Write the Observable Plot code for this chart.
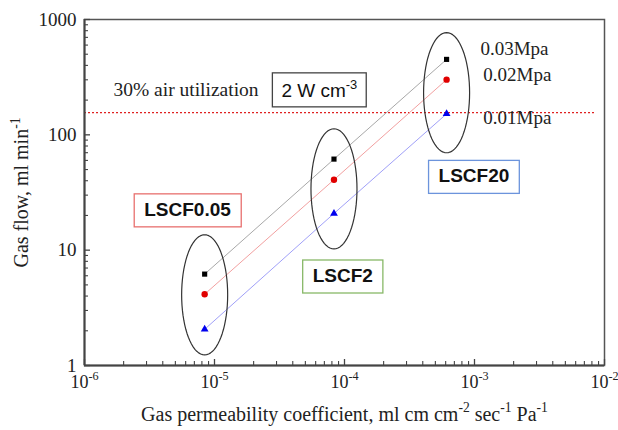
<!DOCTYPE html>
<html><head><meta charset="utf-8">
<script src="https://cdn.jsdelivr.net/npm/d3@7"></script>
<script src="https://cdn.jsdelivr.net/npm/@observablehq/plot@0.6"></script>
<style>body{margin:0;background:#fff}</style>
</head><body>
<script>
// ---- data ----
const groups = ["LSCF0.05", "LSCF2", "LSCF20"];
const permeability = [8.4e-6, 8.3e-5, 6.1e-4];
const pressures = ["0.03Mpa", "0.02Mpa", "0.01Mpa"];
const flow003 = [6.2, 61.6, 451];
const flow002 = [4.15, 40.8, 301];
const flow001 = [2.06, 20.8, 152];
const utilizationFlow = 156;
const ellipseCenterFlow = [4.1, 34, 232];

const xMajor = [1e-6, 1e-5, 1e-4, 1e-3, 1e-2];
const xTickLabels = ["10^{-6}", "10^{-5}", "10^{-4}", "10^{-3}", "10^{-2}"];
const yMajor = [1, 10, 100, 1000];
const yTickLabels = ["1", "10", "100", "1000"];
const xTitle = "Gas permeability coefficient, ml cm cm^{-2} sec^{-1} Pa^{-1}";
const yTitle = "Gas flow, ml min^{-1}";

// annotations (data coordinates)
const groupLabelX = [6.2e-6, 9.7e-5, 9.9e-4];
const groupLabelY = [22.4, 5.98, 43.7];
const groupBoxColors = ["#e8706e", "#88b868", "#6c94dc"];
const pressureLabelX = [1.11e-3, 1.17e-3, 1.17e-3];
const pressureLabelY = [553, 332, 141];
const utilizationText = "30% air utilization";
const utilizationPos = [1.67e-6, 245];
const powerText = "2 W cm^{-3}";
const powerPos = [6.4e-5, 241];

// ---- derived tables ----
const seriesStyle = [
  {values: flow003, symbol: "square", fill: "#000", line: "#a8a8a8", r: 2.9},
  {values: flow002, symbol: "circle", fill: "#e00000", line: "#f2a0a0", r: 3.2},
  {values: flow001, symbol: "triangle", fill: "#0000ee", line: "#a0a0f8", r: 2.9}
];
const points = seriesStyle.flatMap((s, k) => permeability.map((x, i) => ({
  group: groups[i], pressure: pressures[k], x, y: s.values[i], ...s
})));
const allTicksX = d3.scaleLog().domain([1e-6, 1e-2]).ticks();
const xMinor = allTicksX.filter(t => !xMajor.some(m => Math.abs(m - t) / m < 1e-9));
const allTicksY = d3.scaleLog().domain([1, 1000]).ticks();
const yMinor = allTicksY.filter(t => !yMajor.some(m => Math.abs(m - t) / m < 1e-9));

const rxDec = 0.177, ryDec = 0.521;
const ellipsePts = permeability.flatMap((cx, i) => d3.range(0, 73).map(j => {
  const t = j / 72 * 2 * Math.PI;
  return {e: i,
    x: Math.pow(10, Math.log10(cx) + rxDec * Math.cos(t)),
    y: Math.pow(10, Math.log10(ellipseCenterFlow[i]) + ryDec * Math.sin(t))};
}));

const W = 618, H = 430, mL = 84, mR = 14, mT = 19, mB = 65;
const pw = W - mL - mR, ph = H - mT - mB;
const serif = "'Liberation Serif', 'Times New Roman', serif";
const sans = "'Liberation Sans', Arial, sans-serif";

const chart = Plot.plot({
  width: W, height: H,
  marginLeft: mL, marginRight: mR, marginTop: mT, marginBottom: mB,
  style: {background: "#fff", fontFamily: serif, overflow: "visible"},
  x: {type: "log", domain: [1e-6, 1e-2], axis: null},
  y: {type: "log", domain: [1, 1000], axis: null},
  marks: [
    Plot.ruleY([utilizationFlow], {stroke: "#e02020", strokeWidth: 1.3, strokeDasharray: "2,2", insetRight: 10}),
    // connecting lines
    ...seriesStyle.map((s, k) => Plot.line(points.filter(p => p.pressure === pressures[k]),
      {x: "x", y: "y", stroke: s.line, strokeWidth: 1})),
    // ellipses
    Plot.line(ellipsePts, {x: "x", y: "y", z: "e", stroke: "#333", strokeWidth: 1.2, curve: "linear"}),
    // markers
    ...seriesStyle.map((s, k) => Plot.dot(points.filter(p => p.pressure === pressures[k]),
      {x: "x", y: "y", symbol: s.symbol, fill: s.fill, r: s.r, stroke: "none"})),
    // frame
    Plot.frame({stroke: "#555", strokeWidth: 1.5}),
    Plot.ruleX([1e-6], {stroke: "#444", strokeWidth: 2}),
    Plot.ruleY([1], {stroke: "#444", strokeWidth: 2}),
    // inward ticks
    Plot.tickX(xMajor, {stroke: "#444", strokeWidth: 1.3, insetTop: ph - 6}),
    Plot.tickX(xMinor, {stroke: "#444", strokeWidth: 1.1, insetTop: ph - 4}),
    Plot.tickY(yMajor, {stroke: "#444", strokeWidth: 1.3, insetRight: pw - 6}),
    Plot.tickY(yMinor, {stroke: "#444", strokeWidth: 1.1, insetRight: pw - 4}),
    // tick labels
    Plot.text(xMajor, {x: d => d, frameAnchor: "bottom", dy: 22, text: (d, i) => xTickLabels[i],
      fontSize: 18, fill: "#222", textAnchor: "middle"}),
    Plot.text(yMajor, {y: d => d, frameAnchor: "left", dx: -8, text: (d, i) => yTickLabels[i],
      fontSize: 19, fill: "#222", textAnchor: "end"}),
    // axis titles
    Plot.text([xTitle], {frameAnchor: "bottom", dy: 55, text: d => d, fontSize: 20, fill: "#222", textAnchor: "middle"}),
    Plot.text([yTitle], {frameAnchor: "left", dx: -63, rotate: -90, text: d => d, fontSize: 20, fill: "#222", textAnchor: "middle"}),
    // pressure labels
    Plot.text(pressures, {x: (d, i) => pressureLabelX[i], y: (d, i) => pressureLabelY[i], text: d => d,
      textAnchor: "start", fontSize: 19, fill: "#222"}),
    // utilization / power
    Plot.text([utilizationText], {x: () => utilizationPos[0], y: () => utilizationPos[1], text: d => d,
      textAnchor: "start", fontSize: 19.5, fill: "#222"}),
    Plot.text([powerText], {x: () => powerPos[0], y: () => powerPos[1], text: d => d,
      fontFamily: sans, fontSize: 19, fill: "#111"}),
    // group labels
    Plot.text(groups, {x: (d, i) => groupLabelX[i], y: (d, i) => groupLabelY[i], text: d => d,
      fontFamily: sans, fontWeight: "bold", fontSize: 19, fill: "#111"})
  ]
});
document.body.append(chart);

// superscripts: "^{...}"
chart.querySelectorAll("text").forEach(t => {
  const s = t.textContent;
  t.setAttribute("data-orig", s);
  if (!s.includes("^{")) return;
  const fs = parseFloat(getComputedStyle(t).fontSize) || 18;
  const parts = s.split(/\^\{([^}]*)\}/);
  t.textContent = "";
  const ns = "http://www.w3.org/2000/svg";
  let raised = false;
  parts.forEach((p, i) => {
    if (p === "") return;
    const ts = document.createElementNS(ns, "tspan");
    ts.textContent = p;
    if (i % 2 === 1) {
      ts.setAttribute("font-size", (fs * 0.68).toFixed(1));
      ts.setAttribute("dy", (-fs * 0.42).toFixed(1));
      raised = true;
    } else if (raised) {
      ts.setAttribute("dy", (fs * 0.42).toFixed(1));
      raised = false;
    }
    t.appendChild(ts);
  });
});

// boxes around labels
const boxSpec = {};
groups.forEach((g, i) => boxSpec[g] = {stroke: groupBoxColors[i], padX: 10, h: 33});
boxSpec[powerText] = {stroke: "#444", padX: 9, h: 34};
chart.querySelectorAll("text").forEach(t => {
  const spec = boxSpec[t.getAttribute("data-orig")];
  if (!spec) return;
  const b = t.getBBox();
  const r = document.createElementNS("http://www.w3.org/2000/svg", "rect");
  const cy = b.y + b.height / 2;
  r.setAttribute("x", b.x - spec.padX);
  r.setAttribute("y", cy - spec.h / 2 + 1);
  r.setAttribute("width", b.width + 2 * spec.padX);
  r.setAttribute("height", spec.h);
  r.setAttribute("fill", "#fff");
  r.setAttribute("stroke", spec.stroke);
  r.setAttribute("stroke-width", 1.3);
  if (t.getAttribute("transform")) r.setAttribute("transform", t.getAttribute("transform"));
  t.parentNode.insertBefore(r, t);
});
</script>
</body></html>
